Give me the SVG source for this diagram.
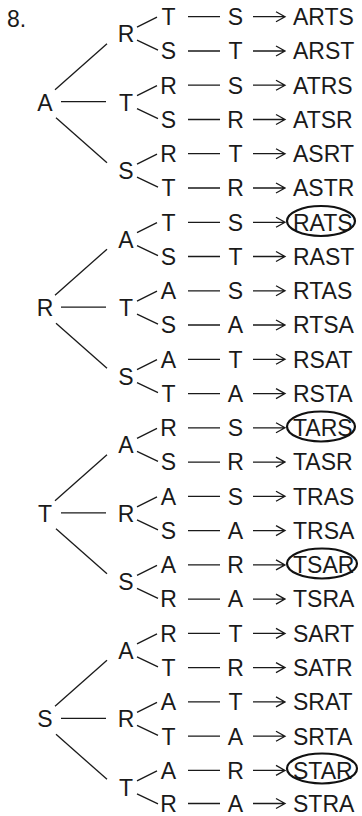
<svg xmlns="http://www.w3.org/2000/svg" width="362" height="816" viewBox="0 0 362 816">
<style>
text{font-family:"Liberation Sans",Arial,sans-serif;font-size:23px;fill:#1a1a1a}
.m{text-anchor:middle}
.c line,.c path{stroke:#1a1a1a;stroke-width:1.3;fill:none}
.ring{fill:none;stroke:#111;stroke-width:2.2}
</style>
<rect width="362" height="816" fill="#fff"/>
<text id="label" x="7" y="27">8.</text>
<g class="c" id="connectors">
<line x1="55" y1="89.7" x2="107" y2="43.7"/><line x1="61" y1="101.7" x2="106" y2="101.7"/><line x1="56" y1="117.7" x2="107" y2="162.7"/>
<line x1="55" y1="295.2" x2="107" y2="249.2"/><line x1="61" y1="307.2" x2="106" y2="307.2"/><line x1="56" y1="323.2" x2="107" y2="368.2"/>
<line x1="55" y1="500.8" x2="107" y2="454.8"/><line x1="61" y1="512.8" x2="106" y2="512.8"/><line x1="56" y1="528.8" x2="107" y2="573.8"/>
<line x1="55" y1="706.3" x2="107" y2="660.3"/><line x1="61" y1="718.3" x2="106" y2="718.3"/><line x1="56" y1="734.3" x2="107" y2="779.3"/>
<path d="M137,27.1L157,17.1M137,40.1L158,50.1"/>
<path d="M137,95.7L157,85.7M137,108.7L158,118.7"/>
<path d="M137,164.2L157,154.2M137,177.2L158,187.2"/>
<path d="M137,232.7L157,222.7M137,245.7L158,255.7"/>
<path d="M137,301.2L157,291.2M137,314.2L158,324.2"/>
<path d="M137,369.7L157,359.7M137,382.7L158,392.7"/>
<path d="M137,438.3L157,428.3M137,451.3L158,461.3"/>
<path d="M137,506.8L157,496.8M137,519.8L158,529.8"/>
<path d="M137,575.3L157,565.3M137,588.3L158,598.3"/>
<path d="M137,643.8L157,633.8M137,656.8L158,666.8"/>
<path d="M137,712.3L157,702.3M137,725.3L158,735.3"/>
<path d="M137,780.8L157,770.8M137,793.8L158,803.8"/>
<path d="M188,16.7H220M188,51H220M188,85.2H220M188,119.5H220M188,153.7H220M188,188H220M188,222.3H220M188,256.5H220M188,290.8H220M188,325H220M188,359.3H220M188,393.6H220M188,427.8H220M188,462.1H220M188,496.3H220M188,530.6H220M188,564.9H220M188,599.1H220M188,633.4H220M188,667.6H220M188,701.9H220M188,736.2H220M188,770.4H220M188,803.5H220"/>
<path d="M253,16.7H284M276,11.7L285,16.7L276,21.7M253,51H284M276,46L285,51L276,56M253,85.2H284M276,80.2L285,85.2L276,90.2M253,119.5H284M276,114.5L285,119.5L276,124.5M253,153.7H284M276,148.7L285,153.7L276,158.7M253,188H284M276,183L285,188L276,193M253,222.3H284M276,217.3L285,222.3L276,227.3M253,256.5H284M276,251.5L285,256.5L276,261.5M253,290.8H284M276,285.8L285,290.8L276,295.8M253,325H284M276,320L285,325L276,330M253,359.3H284M276,354.3L285,359.3L276,364.3M253,393.6H284M276,388.6L285,393.6L276,398.6M253,427.8H284M276,422.8L285,427.8L276,432.8M253,462.1H284M276,457.1L285,462.1L276,467.1M253,496.3H284M276,491.3L285,496.3L276,501.3M253,530.6H284M276,525.6L285,530.6L276,535.6M253,564.9H284M276,559.9L285,564.9L276,569.9M253,599.1H284M276,594.1L285,599.1L276,604.1M253,633.4H284M276,628.4L285,633.4L276,638.4M253,667.6H284M276,662.6L285,667.6L276,672.6M253,701.9H284M276,696.9L285,701.9L276,706.9M253,736.2H284M276,731.2L285,736.2L276,741.2M253,770.4H284M276,765.4L285,770.4L276,775.4M253,803.5H284M276,798.5L285,803.5L276,808.5"/>
</g>
<g id="level1" class="m">
<text id="n-A" x="45" y="110.7">A</text>
<text id="n-R" x="45" y="316.2">R</text>
<text id="n-T" x="45" y="521.8">T</text>
<text id="n-S" x="45" y="727.3">S</text>
</g>
<g id="level2" class="m">
<text id="n-AR" x="126" y="42.1">R</text>
<text id="n-AT" x="126" y="110.7">T</text>
<text id="n-AS" x="126" y="179.2">S</text>
<text id="n-RA" x="126" y="247.7">A</text>
<text id="n-RT" x="126" y="316.2">T</text>
<text id="n-RS" x="126" y="384.7">S</text>
<text id="n-TA" x="126" y="453.3">A</text>
<text id="n-TR" x="126" y="521.8">R</text>
<text id="n-TS" x="126" y="590.3">S</text>
<text id="n-SA" x="126" y="658.8">A</text>
<text id="n-SR" x="126" y="727.3">R</text>
<text id="n-ST" x="126" y="795.8">T</text>
</g>
<g id="level3" class="m">
<text x="168.5" y="25">T</text><text x="168.5" y="59.3">S</text>
<text x="168.5" y="93.5">R</text><text x="168.5" y="127.8">S</text>
<text x="168.5" y="162">R</text><text x="168.5" y="196.3">T</text>
<text x="168.5" y="230.6">T</text><text x="168.5" y="264.8">S</text>
<text x="168.5" y="299.1">A</text><text x="168.5" y="333.3">S</text>
<text x="168.5" y="367.6">A</text><text x="168.5" y="401.9">T</text>
<text x="168.5" y="436.1">R</text><text x="168.5" y="470.4">S</text>
<text x="168.5" y="504.6">A</text><text x="168.5" y="538.9">S</text>
<text x="168.5" y="573.2">A</text><text x="168.5" y="607.4">R</text>
<text x="168.5" y="641.7">R</text><text x="168.5" y="675.9">T</text>
<text x="168.5" y="710.2">A</text><text x="168.5" y="744.5">T</text>
<text x="168.5" y="778.7">A</text><text x="168.5" y="811.5">R</text>
</g>
<g id="level4" class="m">
<text x="235.5" y="25">S</text><text x="235.5" y="59.3">T</text>
<text x="235.5" y="93.5">S</text><text x="235.5" y="127.8">R</text>
<text x="235.5" y="162">T</text><text x="235.5" y="196.3">R</text>
<text x="235.5" y="230.6">S</text><text x="235.5" y="264.8">T</text>
<text x="235.5" y="299.1">S</text><text x="235.5" y="333.3">A</text>
<text x="235.5" y="367.6">T</text><text x="235.5" y="401.9">A</text>
<text x="235.5" y="436.1">S</text><text x="235.5" y="470.4">R</text>
<text x="235.5" y="504.6">S</text><text x="235.5" y="538.9">A</text>
<text x="235.5" y="573.2">R</text><text x="235.5" y="607.4">A</text>
<text x="235.5" y="641.7">T</text><text x="235.5" y="675.9">R</text>
<text x="235.5" y="710.2">T</text><text x="235.5" y="744.5">A</text>
<text x="235.5" y="778.7">R</text><text x="235.5" y="811.5">A</text>
</g>
<g id="results">
<text x="293" y="25">ARTS</text><text x="293" y="59.3">ARST</text>
<text x="293" y="93.5">ATRS</text><text x="293" y="127.8">ATSR</text>
<text x="293" y="162">ASRT</text><text x="293" y="196.3">ASTR</text>
<g id="r-RATS"><text x="293" y="230.6">RATS</text><ellipse class="ring" cx="321" cy="221" rx="34" ry="15"/></g>
<text x="293" y="264.8">RAST</text>
<text x="293" y="299.1">RTAS</text><text x="293" y="333.3">RTSA</text>
<text x="293" y="367.6">RSAT</text><text x="293" y="401.9">RSTA</text>
<g id="r-TARS"><text x="293" y="436.1">TARS</text><ellipse class="ring" cx="321" cy="426.5" rx="34" ry="15"/></g>
<text x="293" y="470.4">TASR</text>
<text x="293" y="504.6">TRAS</text><text x="293" y="538.9">TRSA</text>
<g id="r-TSAR"><text x="293" y="573.2">TSAR</text><ellipse class="ring" cx="322" cy="563.5" rx="35" ry="15"/></g>
<text x="293" y="607.4">TSRA</text>
<text x="293" y="641.7">SART</text><text x="293" y="675.9">SATR</text>
<text x="293" y="710.2">SRAT</text><text x="293" y="744.5">SRTA</text>
<g id="r-STAR"><text x="293" y="778.7">STAR</text><ellipse class="ring" cx="322" cy="768.5" rx="35" ry="15"/></g>
<text x="293" y="811.5">STRA</text>
</g>
</svg>
